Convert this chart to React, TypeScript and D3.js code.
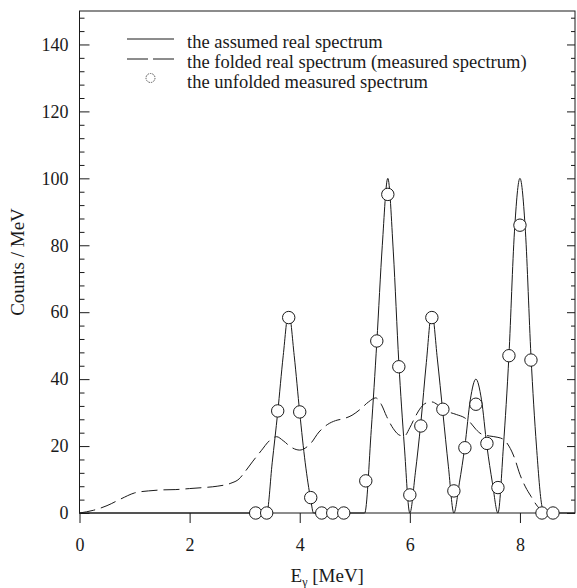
import { useEffect, useRef } from 'react';
import {
  select,
  scaleLinear,
  axisLeft,
  axisRight,
  axisBottom,
  line,
  curveMonotoneX,
} from 'd3';

// tick values
const xTicks = [0, 2, 4, 6, 8];
const yTicks = [0, 20, 40, 60, 80, 100, 120, 140];
const yMinorTicks = [
  4, 8, 12, 16, 24, 28, 32, 36, 44, 48, 52, 56, 64, 68, 72, 76, 84, 88, 92, 96,
  104, 108, 112, 116, 124, 128, 132, 136, 144, 148,
];

// the assumed real spectrum (solid)
const realE = [
  0, 3.4, 3.5, 3.6, 3.7, 3.8, 3.9, 4.0, 4.1, 4.2, 4.25, 5.18, 5.3, 5.4, 5.5,
  5.6, 5.7, 5.8, 5.9, 6.0, 6.1, 6.2, 6.3, 6.4, 6.5, 6.6, 6.7, 6.8, 6.9, 7.0, 7.1,
  7.2, 7.3, 7.4, 7.5, 7.6, 7.7, 7.8, 7.9, 8.0, 8.1, 8.2, 8.3, 8.4, 8.45, 9.0,
];
const realCounts = [
  0, 0, 15, 30, 47, 60, 47, 30, 15, 4, 0, 0, 25, 51, 80, 100, 78, 45, 20, 0, 12,
  27, 45, 60, 46, 30, 14, 0, 9, 20, 34, 40, 34, 20, 9, 0, 20, 47, 84, 100, 84, 47,
  20, 2, 0, 0,
];

// the folded real spectrum (dashed)
const foldedE = [
  0, 0.25, 0.5, 0.75, 1.0, 1.25, 1.5, 1.75, 2.0, 2.25, 2.5, 2.75, 2.9, 3.0, 3.15,
  3.3, 3.45, 3.58, 3.7, 3.85, 4.0, 4.1, 4.2, 4.35, 4.5, 4.65, 4.8, 4.95, 5.1,
  5.25, 5.38, 5.48, 5.58, 5.7, 5.82, 5.9, 6.0, 6.1, 6.2, 6.3, 6.4, 6.5, 6.65,
  6.85, 7.0, 7.1, 7.2, 7.3, 7.45, 7.6, 7.7, 7.8, 7.9, 8.0, 8.1, 8.2, 8.3, 8.4,
  8.5,
];
const foldedCounts = [
  0, 0.8, 2.2, 4.2, 6.0, 6.6, 6.9, 7.0, 7.3, 7.6, 8.0, 8.9, 10.2, 12.2, 15.5,
  18.6, 21.6, 22.8, 21.6, 19.6, 18.8, 19.4, 20.8, 24.2, 26.4, 27.6, 28.2, 29.2,
  31, 33.2, 34.4, 32.5, 28.8, 25.2, 23.2, 23, 25.5, 28.8, 31.5, 32.9, 33.2, 32.4,
  30.6, 29.4, 28.4, 27, 25, 23.6, 23, 22.6, 22, 20, 16.5, 11.5, 7.8, 5, 2.4, 0.6,
  0,
];

// the unfolded measured spectrum (circles)
const unfoldedE = [
  3.2, 3.4, 3.6, 3.8, 4.0, 4.2, 4.4, 4.6, 4.8, 5.2, 5.4, 5.6, 5.8, 6.0, 6.2, 6.4,
  6.6, 6.8, 7.0, 7.2, 7.4, 7.6, 7.8, 8.0, 8.2, 8.4, 8.6,
];
const unfoldedCounts = [
  0, 0, 30.5, 58.4, 30.2, 4.6, 0, 0, 0, 9.6, 51.4, 95.2, 43.7, 5.4, 26, 58.4, 31,
  6.6, 19.5, 32.5, 20.8, 7.6, 47, 86, 45.7, 0, 0,
];

const legendLabels = [
  'the assumed real spectrum',
  'the folded real spectrum (measured spectrum)',
  'the unfolded measured spectrum',
];

const FONT = '"Liberation Serif", "DejaVu Serif", serif';
const INK = '#1a1a1a';

const App = () => {
  const ref = useRef<SVGSVGElement>(null);

  useEffect(() => {
    const width = 577;
    const height = 588;
    const margin = { top: 11, right: 2, bottom: 75, left: 79.5 };
    const w = width - margin.left - margin.right;
    const h = height - margin.top - margin.bottom;

    const svg = select(ref.current);
    svg.selectAll('*').remove();
    svg.attr('width', width).attr('height', height);

    const g = svg
      .append('g')
      .attr('transform', `translate(${margin.left},${margin.top})`);

    const x = scaleLinear().domain([0, 9]).range([0, w]);
    const y = scaleLinear().domain([0, 150]).range([h, 0]);

    // frame
    g.append('rect')
      .attr('width', w)
      .attr('height', h)
      .attr('fill', 'none')
      .attr('stroke', INK)
      .attr('stroke-width', 1);

    const styleAxis = (sel: any) => {
      sel.select('.domain').remove();
      sel.selectAll('line').attr('stroke', INK);
      sel
        .selectAll('text')
        .attr('font-family', FONT)
        .attr('font-size', 18)
        .attr('fill', INK);
    };

    // left axis
    g.append('g')
      .call(axisLeft(y).tickValues(yTicks).tickSize(-10).tickPadding(11))
      .call(styleAxis);
    g.append('g')
      .call(axisLeft(y).tickValues(yMinorTicks).tickSize(-5).tickFormat(() => ''))
      .call(styleAxis);

    // right axis
    g.append('g')
      .attr('transform', `translate(${w},0)`)
      .call(axisRight(y).tickValues(yTicks).tickSize(-8).tickFormat(() => ''))
      .call(styleAxis);
    g.append('g')
      .attr('transform', `translate(${w},0)`)
      .call(axisRight(y).tickValues(yMinorTicks).tickSize(-4).tickFormat(() => ''))
      .call(styleAxis);

    // bottom axis
    g.append('g')
      .attr('transform', `translate(0,${h})`)
      .call(axisBottom(x).tickValues(xTicks).tickSize(10).tickPadding(15))
      .call(styleAxis);

    const lineGen = line<number[]>()
      .x((d) => x(d[0]))
      .y((d) => y(d[1]))
      .curve(curveMonotoneX);

    // folded (dashed)
    const folded = foldedE.map((e, i) => [e, foldedCounts[i]]);
    g.append('path')
      .attr('d', lineGen(folded))
      .attr('fill', 'none')
      .attr('stroke', INK)
      .attr('stroke-width', 1)
      .attr('stroke-dasharray', '16 6');

    // real (solid)
    const real = realE.map((e, i) => [e, realCounts[i]]);
    g.append('path')
      .attr('d', lineGen(real))
      .attr('fill', 'none')
      .attr('stroke', INK)
      .attr('stroke-width', 1);

    // unfolded (circles)
    g.selectAll('circle.pt')
      .data(unfoldedE.map((e, i) => [e, unfoldedCounts[i]]))
      .enter()
      .append('circle')
      .attr('class', 'pt')
      .attr('cx', (d) => x(d[0]))
      .attr('cy', (d) => y(d[1]))
      .attr('r', 6.2)
      .attr('fill', '#fff')
      .attr('stroke', INK)
      .attr('stroke-width', 1);

    // legend
    const lg = svg.append('g');
    const lx0 = 127;
    const lx1 = 174;
    const rows = [39, 59, 78];
    lg.append('line')
      .attr('x1', lx0).attr('x2', lx1)
      .attr('y1', rows[0]).attr('y2', rows[0])
      .attr('stroke', INK);
    lg.append('line')
      .attr('x1', lx0).attr('x2', lx1)
      .attr('y1', rows[1]).attr('y2', rows[1])
      .attr('stroke', INK)
      .attr('stroke-dasharray', '21 5');
    lg.append('circle')
      .attr('cx', (lx0 + lx1) / 2)
      .attr('cy', rows[2])
      .attr('r', 4.5)
      .attr('fill', 'none')
      .attr('stroke', '#555')
      .attr('stroke-dasharray', '1.5 1');
    lg.selectAll('text')
      .data(legendLabels)
      .enter()
      .append('text')
      .attr('x', 187)
      .attr('y', (d, i) => [48, 68, 88][i])
      .attr('font-family', FONT)
      .attr('font-size', 18.5)
      .attr('fill', INK)
      .text((d) => d);

    // axis titles
    svg
      .append('text')
      .attr('transform', `translate(24,${margin.top + h / 2}) rotate(-90)`)
      .attr('text-anchor', 'middle')
      .attr('font-family', FONT)
      .attr('font-size', 19)
      .attr('fill', INK)
      .text('Counts / MeV');

    const xt = svg
      .append('text')
      .attr('x', margin.left + w / 2)
      .attr('y', 582)
      .attr('text-anchor', 'middle')
      .attr('font-family', FONT)
      .attr('font-size', 19)
      .attr('fill', INK);
    xt.append('tspan').text('E');
    xt.append('tspan').attr('font-size', 12).attr('dy', 4).text('γ');
    xt.append('tspan').attr('dy', -4).text(' [MeV]');
  }, []);

  return (
    <svg
      ref={ref}
      style={{ position: 'absolute', left: 0, top: 0, background: '#fff' }}
    ></svg>
  );
};

export default App;
